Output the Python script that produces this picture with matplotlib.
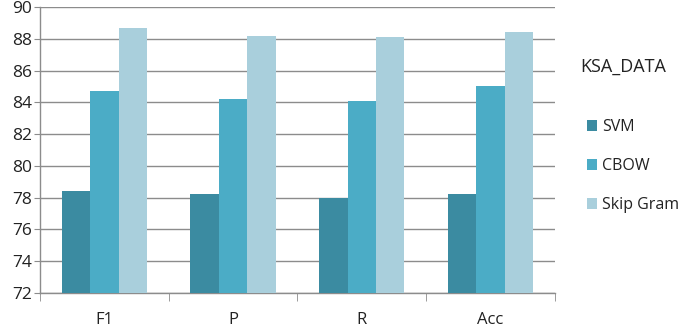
import numpy as np
import matplotlib.pyplot as plt

categories = ["F1", "P", "R", "Acc"]
series_names = ["SVM", "CBOW", "Skip Gram"]
svm = [78.4, 78.2, 78.0, 78.2]
cbow = [84.7, 84.2, 84.1, 85.0]
skip_gram = [88.65, 88.2, 88.1, 88.4]
y_ticks = [72, 74, 76, 78, 80, 82, 84, 86, 88, 90]

colors = ["#3B8BA1", "#4BACC6", "#A9CFDC"]

plt.rcParams["font.family"] = ["Open Sans", "DejaVu Sans"]

fig = plt.figure(figsize=(6.85, 3.32), dpi=100, facecolor="white")
ax = fig.add_axes([0.0584, 0.1175, 0.7516, 0.8615])

x = np.arange(len(categories))
bar_w = 0.221
for i, (vals, name) in enumerate(zip([svm, cbow, skip_gram], series_names)):
    ax.bar(x + (i - 1) * bar_w, vals, width=bar_w, color=colors[i],
           label=name, zorder=3)

ax.set_xlim(-0.5, len(categories) - 0.5)
ax.set_ylim(72, 90)
ax.set_yticks(y_ticks)
ax.set_yticklabels([str(t) for t in y_ticks], fontsize=12.5, color="#222222")
ax.yaxis.grid(True, color="#8C8C8C", linewidth=1.0, zorder=0)
ax.tick_params(axis="y", length=4, color="#8C8C8C", pad=2)

ax.set_xticks(x)
ax.set_xticklabels(categories, fontsize=12, color="#222222")
ax.tick_params(axis="x", which="major", length=0, pad=14)
ax.set_xticks(np.arange(-0.5, len(categories)), minor=True)
ax.tick_params(axis="x", which="minor", length=6, color="#8C8C8C")

for side in ["top", "right"]:
    ax.spines[side].set_visible(False)
for side in ["left", "bottom"]:
    ax.spines[side].set_color("#8C8C8C")
    ax.spines[side].set_linewidth(1.0)

fig.text(580 / 685, 1 - 67 / 332, "KSA_DATA", fontsize=13, color="#222222",
         ha="left", va="center")
leg = ax.legend(loc="upper left", bbox_to_anchor=(587 / 685, 1 - 119 / 332),
                bbox_transform=fig.transFigure, frameon=False, fontsize=11.5,
                handlelength=0.65, handleheight=0.65, handletextpad=0.3,
                labelspacing=1.45, borderaxespad=0, borderpad=0)
for t in leg.get_texts():
    t.set_color("#222222")

fig.savefig("out.png", dpi=100, facecolor="white")
